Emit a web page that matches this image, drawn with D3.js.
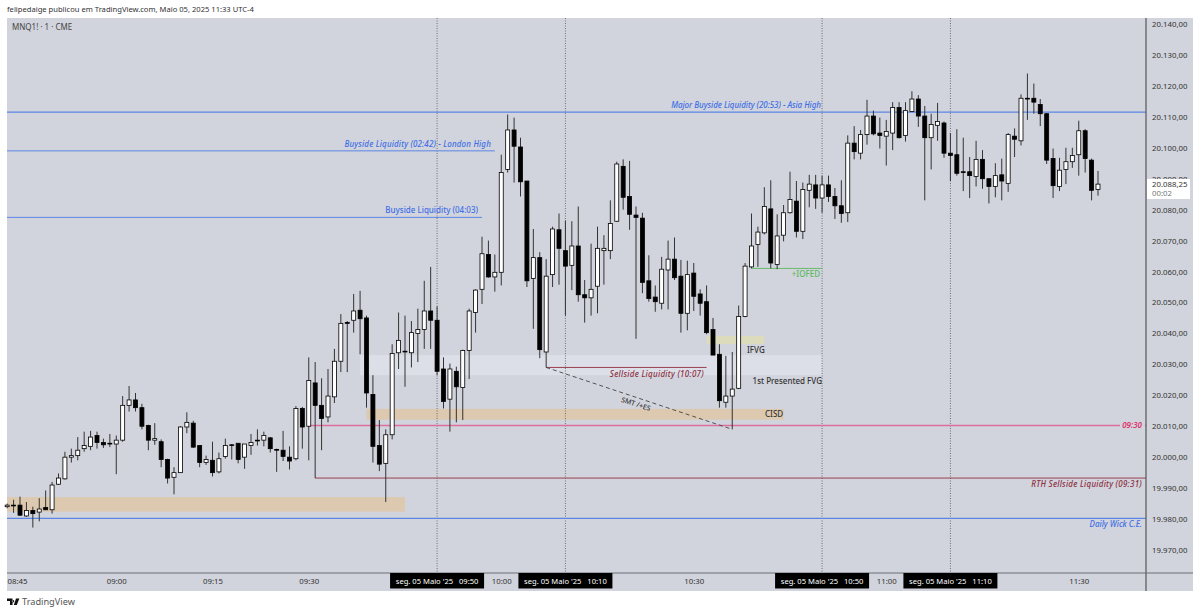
<!DOCTYPE html>
<html>
<head>
<meta charset="utf-8">
<script src="https://cdn.jsdelivr.net/npm/d3@7"></script>
<style>
html, body { margin: 0; padding: 0; background: #fff; }
svg { display: block; }
text { font-family: "Noto Sans", sans-serif; }
</style>
</head>
<body>
<svg id="chart" width="1200" height="614"></svg>
<script>
// one minute bars, MNQ1! 05 May 2025, first bar 08:43
var firstBar = 8 * 60 + 43;

var opens = [
  19984, 19984.5, 19984.5, 19981, 19982.75, 19982.25, 19983.75, 19983, 19991.25, 19993,
  20000, 20000.5, 20002.75, 20003.5, 20007, 20004.75, 20004.5, 20004.25, 20005.5, 20016.75,
  20018.5, 20016, 20010.25, 20005.5, 20005, 19999.25, 19993.5, 19995, 20009.75, 20011,
  20003.75, 19998.25, 19999, 19995.25, 20000.25, 20004, 20004.5, 20000, 20003.75, 20005.5,
  20005.5, 20006.25, 20002.5, 20002.25, 20000, 19999.5, 20015.75, 20010, 20024, 20016.75,
  20013, 20019.5, 20031, 20043.5, 20044.25, 20047.5, 20045, 20020.25, 20003.75, 19998,
  20007.25, 20033.75, 20034.25, 20033.75, 20040, 20041.25, 20047.25, 20044.25, 20028.5, 20018.75,
  20027.75, 20022.5, 20034.5, 20046.75, 20054.25, 20065.5, 20058.25, 20059.75, 20093, 20105.75,
  20100.25, 20089.25, 20057.75, 20064.5, 20034, 20059, 20073.5, 20066.75, 20062, 20068.25,
  20052.5, 20051.5, 20055.25, 20066.75, 20066.75, 20076.25, 20094, 20084.25, 20078.25, 20077.25,
  20057, 20051.75, 20049.75, 20060.5, 20064, 20058.5, 20046.5, 20059.5, 20052.75, 20050.25,
  20041.25, 20033.25, 20017.75, 20019.75, 20022.25, 20045.5, 20061.5, 20068.75, 20072.5, 20080.25,
  20062.25, 20071.75, 20079, 20082.75, 20073, 20086.25, 20088, 20083.75, 20088, 20084.25,
  20081.25, 20079, 20101.5, 20098.25, 20104.25, 20110.25, 20104.75, 20103.75, 20104.75, 20113,
  20104, 20111.75, 20115.75, 20110.25, 20103.25, 20107.25, 20108, 20098.25, 20097.75, 20092.25,
  20092.25, 20090.75, 20096.25, 20090, 20087.5, 20091.25, 20088.5, 20103.75, 20102.25, 20116,
  20116, 20114, 20111, 20096.5, 20087.5, 20093, 20095.5, 20097.75, 20105.5, 20096,
  20086.5
];
var highs = [
  19985, 19986.25, 19987.25, 19985.5, 19984, 19986.75, 19989.25, 19992, 19994.75, 20001.75,
  20002.75, 20006.5, 20008.25, 20008.5, 20008.25, 20006, 20007.5, 20007, 20019.75, 20023,
  20020.75, 20017.25, 20010.5, 20011, 20005.75, 19999.5, 19996.75, 20010, 20014.5, 20011.75,
  20003.75, 20000.5, 20005, 20001.5, 20006, 20004.25, 20004.5, 20004.25, 20007.5, 20009,
  20008.25, 20006.5, 20002.75, 20008.5, 20003.5, 20016.5, 20016.25, 20032.25, 20030.75, 20025.5,
  20028.5, 20035, 20046.25, 20044, 20052.75, 20053.75, 20045.75, 20026.5, 20012, 20009,
  20036.5, 20046.75, 20045.75, 20044, 20048, 20057, 20061.5, 20048.75, 20032.25, 20030.25,
  20029.25, 20034.75, 20048, 20054.25, 20071.25, 20070, 20065.5, 20097.75, 20110.75, 20109.75,
  20103.25, 20089.25, 20073.75, 20066.25, 20064, 20074.5, 20078.75, 20076.5, 20076.25, 20081,
  20057.25, 20069, 20074.5, 20071.75, 20083, 20095.5, 20096.25, 20095.75, 20081, 20079,
  20065.25, 20055.5, 20064.75, 20070, 20071, 20063.75, 20063.5, 20062.75, 20054.25, 20055.5,
  20045, 20036.5, 20032.75, 20034, 20049, 20062.75, 20078.75, 20074.5, 20087.25, 20089.5,
  20078.5, 20081.5, 20092.25, 20089.25, 20088.75, 20091.25, 20091.25, 20091, 20091, 20087,
  20089.5, 20104, 20107, 20105.75, 20115.5, 20112, 20109.75, 20109, 20114.75, 20114.75,
  20114.75, 20118.25, 20117, 20113.5, 20111, 20114.5, 20108.5, 20104.75, 20106, 20103.25,
  20097, 20102.25, 20099.25, 20090, 20095, 20096.5, 20104.75, 20106.25, 20117.25, 20124,
  20120.75, 20115.75, 20111.25, 20099.75, 20096.75, 20100, 20100, 20108.75, 20106, 20096.5,
  20092.5
];
var lows = [
  19983.5, 19982, 19981, 19980.75, 19977.25, 19979.25, 19983, 19981.75, 19991, 19992.75,
  19998.25, 19999, 20001.75, 20002.25, 20002.75, 20003, 20003.25, 19994.5, 20005, 20014.75,
  20014.75, 20009, 20002.25, 20004, 19996.75, 19991.5, 19988, 19995, 20007.75, 20003,
  19996.75, 19997.5, 19993.75, 19994.75, 19999.5, 19999.25, 19998, 19996.25, 20000.75, 20003.75,
  20003.5, 20001.5, 19995.25, 19998.75, 19996, 19999, 20002.75, 19999, 19993.25, 20002.25,
  20011.25, 20017.5, 20027.5, 20027.5, 20040.25, 20033.25, 20016, 19998.25, 19995.5, 19985.5,
  20005.75, 20028.5, 20022.75, 20029, 20030.75, 20035, 20035, 20026.5, 20015.75, 20008.25,
  20011.25, 20012, 20025.25, 20040.25, 20049.5, 20058, 20053.5, 20055.5, 20092, 20088.75,
  20084.25, 20055, 20041.5, 20032, 20029, 20055, 20055.75, 20045.75, 20054, 20050.25,
  20043.5, 20045.75, 20046.5, 20055.75, 20064, 20076, 20080, 20073.5, 20038.25, 20053,
  20050.25, 20047, 20047.75, 20047.75, 20057.25, 20040.25, 20041, 20047.25, 20045.75, 20039.75,
  20033, 20016, 20016, 20009, 20022, 20045.25, 20061, 20061.5, 20072, 20061,
  20060.75, 20069.75, 20078.75, 20071, 20070.5, 20080.75, 20080.25, 20079, 20082.5, 20077,
  20075.75, 20076, 20096.25, 20096.25, 20101, 20104, 20099.75, 20094.25, 20099.25, 20103,
  20102, 20111.5, 20106.75, 20083, 20093, 20102.25, 20096.75, 20089.25, 20091, 20086,
  20083.75, 20087.5, 20086.75, 20082, 20084, 20083, 20085.75, 20097, 20100.75, 20109,
  20111, 20107, 20094.75, 20083.75, 20086, 20088.25, 20093.5, 20091, 20092, 20083,
  20084.5
];
var closes = [
  19984.5, 19984.25, 19981.25, 19982.75, 19981.75, 19983.25, 19983, 19991, 19993.25, 20000,
  20000.5, 20002.25, 20003.75, 20006.5, 20004.75, 20004, 20004.25, 20005.5, 20016.75, 20018.5,
  20016, 20010, 20005.5, 20006, 19999.25, 19993.25, 19995, 20009.75, 20011.25, 20003.25,
  19998.25, 19999.25, 19995, 19999.5, 20003.75, 20003.75, 19999.25, 20004.25, 20004.75, 20005.25,
  20007, 20002.75, 20002.25, 20000.25, 19998.75, 20015.75, 20009.75, 20024.75, 20016.75, 20012.5,
  20019.75, 20031, 20043.25, 20043.25, 20047.25, 20044.75, 20020.75, 20003.5, 19997.75, 20007.25,
  20033.5, 20037.75, 20034, 20040.25, 20041.25, 20047.25, 20044.25, 20027.75, 20018, 20028.5,
  20022.75, 20034.5, 20047.25, 20054, 20065.75, 20058.25, 20059.75, 20092, 20105.75, 20100.5,
  20089, 20057, 20064.5, 20034.75, 20058.5, 20073.75, 20067.5, 20061.75, 20068.25, 20052.5,
  20051.5, 20054.25, 20067.5, 20067.5, 20075.5, 20094.75, 20084, 20078.5, 20077.5, 20056.5,
  20051.25, 20050.25, 20060.75, 20064, 20058, 20046.5, 20059, 20052, 20049.75, 20040.25,
  20033, 20018.25, 20019.75, 20022, 20045.5, 20061.75, 20068.25, 20072.75, 20081, 20062.75,
  20071.5, 20079, 20083.25, 20073, 20086.5, 20088.25, 20083.75, 20088, 20084.25, 20081.25,
  20078.75, 20101.5, 20098.75, 20104.25, 20110.25, 20104.5, 20104, 20105.25, 20113, 20103.25,
  20112, 20115.75, 20110.25, 20103.25, 20107.5, 20108.5, 20098.25, 20097.5, 20091.75, 20092,
  20091, 20096.25, 20090, 20087.5, 20091, 20089.25, 20104.25, 20102.75, 20116, 20115.75,
  20114.75, 20111, 20096, 20087.75, 20092.75, 20095.5, 20097.5, 20105.5, 20096.5, 20086.25,
  20088.25
];

var priceTicks = d3.range(19970, 20141, 10);
var timeTicks = ["08:45", "09:00", "09:15", "09:30", "10:00", "10:30", "11:00", "11:30"];
var cursorTimes = ["09:50", "10:10", "10:50", "11:10"];
var cursorDate = "seg. 05 Maio '25";
var lastPrice = 20088.25;
var countdown = "00:02";

function minutes(t) {
  var p = t.split(":");
  return +p[0] * 60 + +p[1];
}

var svg = d3.select("#chart");
var paneLeft = 7, paneRight = 1146, paneTop = 18, paneBottom = 573, axisRight = 1193, axisBottom = 591;

var x = d3.scaleLinear().domain([minutes("08:45"), minutes("11:33")]).range([20, 1098]);
var y = d3.scaleLinear().domain([19970, 20140]).range([550, 24]);

var locale = d3.formatLocale({ decimal: ",", thousands: ".", grouping: [3], currency: ["", ""] });
var priceFormat = locale.format(",.2f");

svg.append("rect").attr("x", paneLeft).attr("y", paneTop)
  .attr("width", axisRight - paneLeft).attr("height", axisBottom - paneTop)
  .attr("fill", "#d1d4dc");

// zones
function zone(from, to, top, bottom, color) {
  svg.append("rect")
    .attr("x", from === null ? paneLeft : x(minutes(from)))
    .attr("y", y(top))
    .attr("width", x(minutes(to)) - (from === null ? paneLeft : x(minutes(from))))
    .attr("height", y(bottom) - y(top))
    .attr("fill", color);
}
zone(null, "09:45", 19987.1, 19982.4, "#dcc9b0");
zone("09:38", "10:50", 20033, 20026.5, "#dcdfe7");
zone("09:39", "10:44", 20015.6, 20012.1, "#dcc9b0");
zone("10:32", "10:41", 20039.2, 20036.6, "#dcdcbc");

// session cursors
svg.append("g").selectAll("line").data(cursorTimes).join("line")
  .attr("x1", function(d) { return x(minutes(d)); })
  .attr("x2", function(d) { return x(minutes(d)); })
  .attr("y1", paneTop).attr("y2", paneBottom)
  .attr("stroke", "#555").attr("stroke-width", 0.8).attr("stroke-dasharray", "1,1.5");

// levels
function level(price, from, to, color, width) {
  svg.append("line")
    .attr("x1", from === null ? paneLeft : x(minutes(from)))
    .attr("x2", to === null ? paneRight : x(minutes(to)))
    .attr("y1", y(price)).attr("y2", y(price))
    .attr("stroke", color).attr("stroke-width", width || 1);
}
var blue = "#5c86e6", red = "#9c3f50", pink = "#dc6f9e", green = "#66bb6a";
level(20111.5, null, null, blue, 1.2);
level(20099, null, "09:59", blue);
level(20077.5, null, "09:57", blue);
level(19980.25, null, null, blue, 1.2);
level(20010.25, "09:30", null, pink, 1.5);
level(19993.25, "09:31", null, red);
level(20029, "10:07", "10:32", red);
level(20061, "10:39", "10:50", green);

// SMT link
svg.append("line")
  .attr("x1", x(minutes("10:07"))).attr("y1", y(20029))
  .attr("x2", x(minutes("10:36"))).attr("y2", y(20009))
  .attr("stroke", "#444").attr("stroke-width", 0.9).attr("stroke-dasharray", "4,3");

// candles
var bars = opens.map(function(o, i) {
  return { t: firstBar + i, o: o, h: highs[i], l: lows[i], c: closes[i] };
});
var candle = svg.append("g").selectAll("g").data(bars).join("g");
candle.append("line")
  .attr("x1", function(d) { return x(d.t); })
  .attr("x2", function(d) { return x(d.t); })
  .attr("y1", function(d) { return y(d.h); })
  .attr("y2", function(d) { return y(d.l); })
  .attr("stroke", "#333").attr("stroke-width", 1);
candle.append("rect")
  .attr("x", function(d) { return x(d.t) - 2; })
  .attr("width", 4)
  .attr("y", function(d) { return y(Math.max(d.o, d.c)); })
  .attr("height", function(d) { return Math.max(0.6, Math.abs(y(d.o) - y(d.c))); })
  .attr("fill", function(d) { return d.c >= d.o ? "#fff" : "#000"; })
  .attr("stroke", "#000").attr("stroke-width", 0.8);

// annotation labels
function label(txt, px, py, anchor, color, italic, size, weight) {
  return svg.append("text")
    .attr("x", px).attr("y", py).attr("dy", "0.35em")
    .attr("text-anchor", anchor)
    .attr("fill", color)
    .attr("font-size", size || 8)
    .attr("font-weight", weight || 500)
    .attr("font-style", italic ? "italic" : "normal")
    .text(txt);
}
var blueText = "#3f6fe6", redText = "#8e2f42";
label("Major Buyside Liquidity (20:53) - Asia High", 821, 105, "end", blueText, true).attr("letter-spacing", -0.05);
label("Buyside Liquidity (02:42) - London High", 491, 144.5, "end", blueText, true).attr("letter-spacing", 0.15);
label("Buyside Liquidity (04:03)", 478, 210, "end", blueText, false);
label("Daily Wick C.E.", 1142, 524.5, "end", blueText, true);
label("RTH Sellside Liquidity (09:31)", 1142, 484.5, "end", redText, true).attr("letter-spacing", 0.25);
label("Sellside Liquidity (10:07)", 704, 374, "end", redText, true).attr("letter-spacing", 0.28);
label("+IOFED", 820, 274, "end", "#5cb85c", false);
label("IFVG", 747, 350, "start", "#333", false);
label("1st Presented FVG", 822, 381.5, "end", "#333", false);
label("CISD", 765, 413.7, "start", "#333", false);
label("SMT /+ES", 0, 0, "middle", "#333", false, 7)
  .attr("transform", "translate(636,404) rotate(18)");
svg.append("rect").attr("x", 1120).attr("y", y(20010.25) - 4).attr("width", 25).attr("height", 8).attr("fill", "#d1d4dc");
label("09:30", 1142, y(20010.25), "end", "#e0356f", true, 8, 600);

// price axis
svg.append("line").attr("x1", paneRight).attr("x2", paneRight).attr("y1", paneTop).attr("y2", axisBottom)
  .attr("stroke", "#555").attr("stroke-width", 1.2);
var yAxis = d3.axisRight(y).tickValues(priceTicks).tickSize(0).tickPadding(6)
  .tickFormat(function(d) { return priceFormat(d); });
var yg = svg.append("g").attr("transform", "translate(" + paneRight + ",0)").call(yAxis);
yg.select(".domain").remove();
yg.selectAll("text").attr("font-family", "Noto Sans").attr("font-size", 7.8).attr("fill", "#333");

// time axis
svg.append("line").attr("x1", paneLeft).attr("x2", axisRight).attr("y1", paneBottom).attr("y2", paneBottom)
  .attr("stroke", "#6b6e75").attr("stroke-width", 1.2);
var xAxis = d3.axisBottom(x).tickValues(timeTicks.map(minutes)).tickSize(0).tickPadding(0)
  .tickFormat(function(d) { return d3.format("02")(Math.floor(d / 60)) + ":" + d3.format("02")(d % 60); });
var xg = svg.append("g").attr("transform", "translate(0," + (paneBottom + 5) + ")").call(xAxis);
xg.select(".domain").remove();
xg.selectAll("text").attr("font-family", "Noto Sans").attr("font-size", 7.8).attr("fill", "#333");
xg.selectAll(".tick").filter(function(d) { return d === minutes("08:45"); })
  .attr("transform", "translate(17.5,0)");

// cursor date boxes
var cursor = svg.append("g").selectAll("g").data(cursorTimes).join("g")
  .attr("transform", function(d) { return "translate(" + x(minutes(d)) + "," + paneBottom + ")"; });
cursor.append("rect").attr("x", -47).attr("y", 0).attr("width", 94).attr("height", 15.5).attr("fill", "#000");
cursor.append("text").attr("text-anchor", "middle").attr("y", 8).attr("dy", "0.35em")
  .attr("fill", "#fff").attr("font-size", 7.6).attr("xml:space", "preserve")
  .text(function(d) { return cursorDate + "   " + d; });

// last price flag
svg.append("rect").attr("x", 1147).attr("y", 179).attr("width", 43).attr("height", 20).attr("fill", "#fff");
svg.append("text").attr("x", 1152).attr("y", y(lastPrice)).attr("dy", "0.35em")
  .attr("font-size", 7.8).attr("fill", "#333").text(priceFormat(lastPrice));
svg.append("text").attr("x", 1152).attr("y", 193).attr("dy", "0.35em")
  .attr("font-size", 7.8).attr("fill", "#777").text(countdown);

// header and footer
label("felipedaige publicou em TradingView.com, Maio 05, 2025 11:33 UTC-4", 7, 9.5, "start", "#333", false, 7.6, 400);
label("MNQ1! \u00b7 1 \u00b7 CME", 12, 27.5, "start", "#444", false, 8, 400);
svg.append("path").attr("fill", "#111")
  .attr("d", "M7 598.5h5.5v6.5h-2.5v-4h-3z M13 600a1.2 1.2 0 1 0 0.01 0z M16 598.5h3.4l-2.6 6.5h-3z");
label("TradingView", 22, 602, "start", "#555", false, 9.2, 400);
</script>
</body>
</html>
